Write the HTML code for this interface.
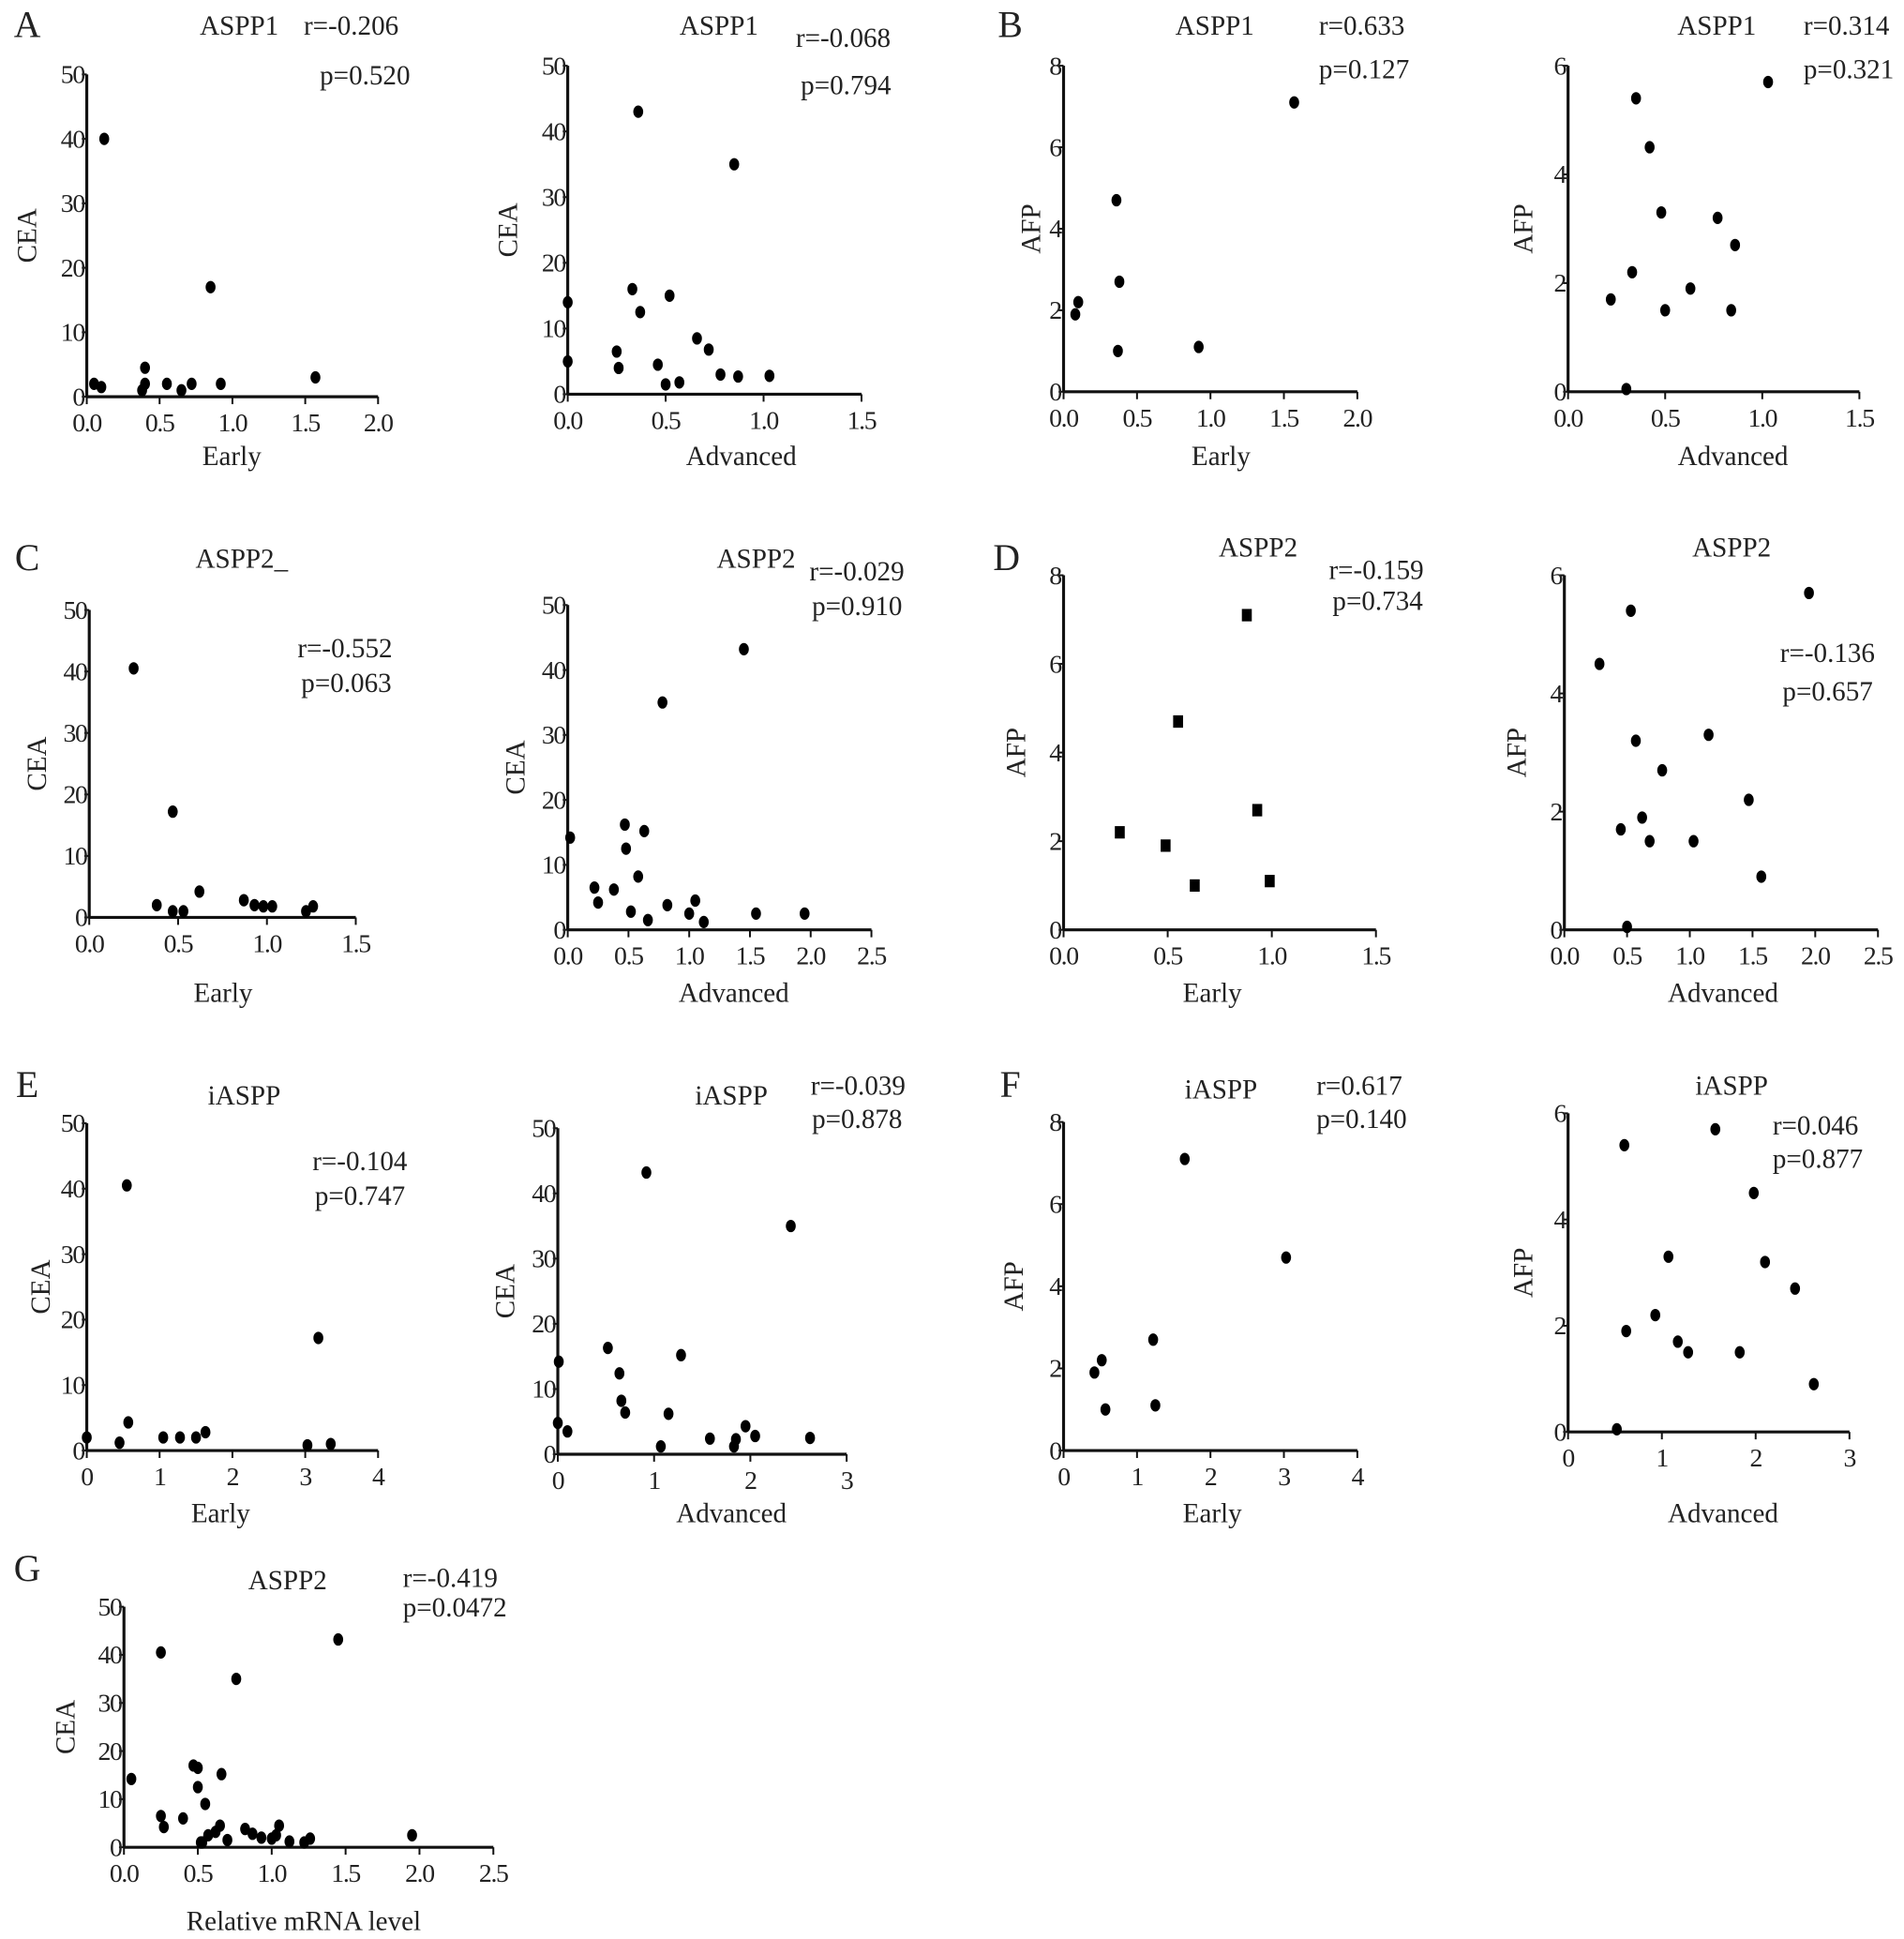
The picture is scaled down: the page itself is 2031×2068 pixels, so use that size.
<!DOCTYPE html>
<html><head><meta charset="utf-8"><style>
html,body{margin:0;padding:0;background:#fff;}
svg{display:block;}
text{font-family:"Liberation Serif",serif;fill:#222;}
</style></head><body>
<svg id="fig" width="2031" height="2068" viewBox="0 0 1536 1564" preserveAspectRatio="none" xmlns="http://www.w3.org/2000/svg"></svg>
<script>
// ---- data arrays ----
const a1x=[0.05,0.1,0.12,0.4,0.4,0.38,0.55,0.65,0.72,0.92,0.85,1.57];
const a1y=[2,1.5,40,4.5,2,1,2,1,2,2,17,3];
const a2x=[0,0,0.25,0.26,0.33,0.36,0.37,0.46,0.5,0.52,0.57,0.66,0.72,0.78,0.85,0.87,1.03];
const a2y=[14,5,6.5,4,16,43,12.5,4.5,1.5,15,1.8,8.5,6.8,3,35,2.7,2.8];
const b1x=[0.08,0.1,0.36,0.38,0.37,0.92,1.57];
const b1y=[1.9,2.2,4.7,2.7,1,1.1,7.1];
const b2x=[0.22,0.3,0.33,0.35,0.42,0.48,0.5,0.63,0.77,0.84,0.86,1.03];
const b2y=[1.7,0.05,2.2,5.4,4.5,3.3,1.5,1.9,3.2,1.5,2.7,5.7];
const c1x=[0.25,0.38,0.47,0.47,0.53,0.62,0.87,0.93,0.98,1.03,1.22,1.26];
const c1y=[40.5,2,17.2,1,1,4.2,2.8,2,1.8,1.8,1,1.8];
const c2x=[0.02,0.22,0.25,0.38,0.47,0.48,0.52,0.58,0.63,0.66,0.78,0.82,1.0,1.05,1.12,1.45,1.55,1.95];
const c2y=[14.2,6.5,4.2,6.2,16.2,12.5,2.8,8.2,15.2,1.5,35,3.8,2.5,4.5,1.2,43.2,2.5,2.5];
const d1x=[0.27,0.49,0.55,0.63,0.88,0.93,0.99];
const d1y=[2.2,1.9,4.7,1.0,7.1,2.7,1.1];
const d2x=[0.28,0.45,0.5,0.53,0.57,0.62,0.68,0.78,1.03,1.15,1.47,1.57,1.95];
const d2y=[4.5,1.7,0.05,5.4,3.2,1.9,1.5,2.7,1.5,3.3,2.2,0.9,5.7];
const e1x=[0.0,0.45,0.55,0.57,1.05,1.28,1.5,1.63,3.03,3.18,3.35];
const e1y=[2,1.2,40.5,4.3,2,2,2,2.8,0.8,17.2,1];
const e2x=[0.01,0.0,0.1,0.52,0.64,0.66,0.7,0.92,1.07,1.15,1.28,1.58,1.83,1.85,1.95,2.05,2.42,2.62];
const e2y=[14.2,4.8,3.5,16.3,12.4,8.2,6.4,43.2,1.2,6.2,15.2,2.4,1.2,2.3,4.3,2.8,35,2.5];
const f1x=[0.42,0.52,0.57,1.22,1.25,1.65,3.03];
const f1y=[1.9,2.2,1.0,2.7,1.1,7.1,4.7];
const f2x=[0.52,0.6,0.62,0.93,1.07,1.17,1.28,1.57,1.83,1.98,2.1,2.42,2.62];
const f2y=[0.05,5.4,1.9,2.2,3.3,1.7,1.5,5.7,1.5,4.5,3.2,2.7,0.9];
const gx=[0.05,0.25,0.25,0.27,0.4,0.47,0.5,0.5,0.52,0.53,0.55,0.57,0.62,0.65,0.66,0.7,0.76,0.82,0.87,0.93,1.0,1.03,1.05,1.12,1.22,1.26,1.45,1.95];
const gy=[14.2,6.5,40.5,4.2,6,17,16.5,12.5,1,1,9,2.5,3.2,4.5,15.2,1.5,35,3.8,2.8,2,1.8,2.5,4.5,1.2,1,1.8,43.2,2.5];
const ceaTicks=[0,10,20,30,40,50];
const afp8Ticks=[0,2,4,6,8];
const afp6Ticks=[0,2,4,6];
const x20=["0.0","0.5","1.0","1.5","2.0"];
const x15=["0.0","0.5","1.0","1.5"];
const x25=["0.0","0.5","1.0","1.5","2.0","2.5"];
const x4=["0","1","2","3","4"];
const x3=["0","1","2","3"];

// ---- layout ----
const panels=[
 {id:'a1',xs:a1x,ys:a1y,ax:70,x1:305,xt:x20,ytop:60,ybot:320,yt:ceaTicks,yl:'CEA',ylx:22,xl:'Early',xlx:187,xly:375,title:'ASPP1',tx:193,ty:28,r:'r=-0.206',rx:245,ry:28,p:'p=0.520',px:258,py:68},
 {id:'a2',xs:a2x,ys:a2y,ax:458,x1:695,xt:x15,ytop:53,ybot:318,yt:ceaTicks,yl:'CEA',ylx:410,xl:'Advanced',xlx:598,xly:375,title:'ASPP1',tx:580,ty:28,r:'r=-0.068',rx:642,ry:38,p:'p=0.794',px:646,py:76},
 {id:'b1',xs:b1x,ys:b1y,ax:858,x1:1095,xt:x20,ytop:53,ybot:316,yt:afp8Ticks,yl:'AFP',ylx:832,xl:'Early',xlx:985,xly:375,title:'ASPP1',tx:980,ty:28,r:'r=0.633',rx:1064,ry:28,p:'p=0.127',px:1064,py:63},
 {id:'b2',xs:b2x,ys:b2y,ax:1265,x1:1500,xt:x15,ytop:53,ybot:316,yt:afp6Ticks,yl:'AFP',ylx:1229,xl:'Advanced',xlx:1398,xly:375,title:'ASPP1',tx:1385,ty:28,r:'r=0.314',rx:1455,ry:28,p:'p=0.321',px:1455,py:63},
 {id:'c1',xs:c1x,ys:c1y,ax:72,x1:287,xt:x15,ytop:492,ybot:740,yt:ceaTicks,yl:'CEA',ylx:30,xl:'Early',xlx:180,xly:808,title:'ASPP2_',tx:195,ty:458,r:'r=-0.552',rx:240,ry:530,p:'p=0.063',px:243,py:558},
 {id:'c2',xs:c2x,ys:c2y,ax:458,x1:703,xt:x25,ytop:488,ybot:750,yt:ceaTicks,yl:'CEA',ylx:416,xl:'Advanced',xlx:592,xly:808,title:'ASPP2',tx:610,ty:458,r:'r=-0.029',rx:653,ry:468,p:'p=0.910',px:655,py:496},
 {id:'d1',xs:d1x,ys:d1y,ax:858,x1:1110,xt:x15,ytop:464,ybot:750,yt:afp8Ticks,yl:'AFP',ylx:820,xl:'Early',xlx:978,xly:808,title:'ASPP2',tx:1015,ty:449,r:'r=-0.159',rx:1072,ry:467,p:'p=0.734',px:1075,py:492,sq:true},
 {id:'d2',xs:d2x,ys:d2y,ax:1262,x1:1515,xt:x25,ytop:464,ybot:750,yt:afp6Ticks,yl:'AFP',ylx:1224,xl:'Advanced',xlx:1390,xly:808,title:'ASPP2',tx:1397,ty:449,r:'r=-0.136',rx:1436,ry:534,p:'p=0.657',px:1438,py:565},
 {id:'e1',xs:e1x,ys:e1y,ax:70,x1:305,xt:x4,ytop:906,ybot:1170,yt:ceaTicks,yl:'CEA',ylx:33,xl:'Early',xlx:178,xly:1228,title:'iASPP',tx:197,ty:891,r:'r=-0.104',rx:252,ry:944,p:'p=0.747',px:254,py:972},
 {id:'e2',xs:e2x,ys:e2y,ax:450,x1:683,xt:x3,ytop:910,ybot:1173,yt:ceaTicks,yl:'CEA',ylx:408,xl:'Advanced',xlx:590,xly:1228,title:'iASPP',tx:590,ty:891,r:'r=-0.039',rx:654,ry:883,p:'p=0.878',px:655,py:910},
 {id:'f1',xs:f1x,ys:f1y,ax:858,x1:1095,xt:x4,ytop:905,ybot:1170,yt:afp8Ticks,yl:'AFP',ylx:818,xl:'Early',xlx:978,xly:1228,title:'iASPP',tx:985,ty:886,r:'r=0.617',rx:1062,ry:883,p:'p=0.140',px:1062,py:910},
 {id:'f2',xs:f2x,ys:f2y,ax:1265,x1:1492,xt:x3,ytop:898,ybot:1155,yt:afp6Ticks,yl:'AFP',ylx:1229,xl:'Advanced',xlx:1390,xly:1228,title:'iASPP',tx:1397,ty:883,r:'r=0.046',rx:1430,ry:915,p:'p=0.877',px:1430,py:942},
 {id:'g',xs:gx,ys:gy,ax:100,x1:398,xt:x25,ytop:1296,ybot:1490,yt:ceaTicks,yl:'CEA',ylx:53,xl:'Relative mRNA level',xlx:245,xly:1557,title:'ASPP2',tx:232,ty:1282,r:'r=-0.419',rx:325,ry:1280,p:'p=0.0472',px:325,py:1304}
];
const letters=[['A',22,30],['B',815,30],['C',22,460],['D',812,460],['E',22,885],['F',815,885],['G',22,1275]];

const NS='http://www.w3.org/2000/svg';
const svg=document.getElementById('fig');
const SERIF='"Liberation Serif", serif';
function mk(tag,attrs,parent){const e=document.createElementNS(NS,tag);for(const k in attrs)e.setAttribute(k,attrs[k]);(parent||svg).appendChild(e);return e;}
function txt(s,x,y,size,anchor,parent,extra){const t=mk('text',Object.assign({x:x,y:y,'font-size':size,'text-anchor':anchor||'middle','font-family':SERIF},extra||{}),parent);t.textContent=s;return t;}

letters.forEach(l=>{
 const t=txt(l[0],l[1],l[2],30,'middle',svg,{'font-family':'"Liberation Sans", sans-serif'});
 
 
});

panels.forEach(P=>{
 const g=mk('g',{});
 
 
 const xmax=parseFloat(P.xt[P.xt.length-1]);
 const ymax=P.yt[P.yt.length-1];
 const sx=v=>P.ax+(v/xmax)*(P.x1-P.ax);
 const sy=v=>P.ybot-(v/ymax)*(P.ybot-P.ytop);
 const yax=mk('line',{x1:P.ax,y1:P.ytop,x2:P.ax,y2:P.ybot,stroke:'#111','stroke-width':2.4},g);
 
 
 const xax=mk('line',{x1:P.ax,y1:P.ybot,x2:P.x1,y2:P.ybot,stroke:'#111','stroke-width':2.4},g);
 
 
 P.yt.forEach(v=>{
  mk('line',{x1:P.ax-4,y1:sy(v),x2:P.ax,y2:sy(v),stroke:'#111','stroke-width':1.5},g);
  const t=txt(String(v),P.ax-2,sy(v)+7,21,'end',g,{'letter-spacing':'-1'});
  
  
 });
 P.xt.forEach(s=>{
  const v=parseFloat(s);
  mk('line',{x1:sx(v),y1:P.ybot,x2:sx(v),y2:P.ybot+6,stroke:'#111','stroke-width':1.5},g);
  const t=txt(s,sx(v),P.ybot+28,21,'middle',g,{'letter-spacing':'-1'});
  
  
 });
 const cy=(P.ytop+P.ybot)/2;
 const yl=txt(P.yl,P.ylx,cy,22,'middle',g,{transform:`rotate(-90 ${P.ylx} ${cy})`,dy:'7'});
 
 
 const xl=txt(P.xl,P.xlx,P.xly,22,'middle',g);
 
 
 const tt=txt(P.title,P.tx,P.ty,22,'middle',g);
 
 
 const rt=txt(P.r,P.rx,P.ry,22,'start',g);
 
 
 const pt=txt(P.p,P.px,P.py,22,'start',g);
 
 
 P.xs.forEach((xv,i)=>{
  let m;
  if(P.sq) m=mk('rect',{x:sx(xv)-4,y:sy(P.ys[i])-5,width:8,height:10,fill:'#000'},g);
  else m=mk('ellipse',{cx:sx(xv),cy:sy(P.ys[i]),rx:4,ry:5,fill:'#000'},g);
  
  
 });
});
</script>
</body></html>
